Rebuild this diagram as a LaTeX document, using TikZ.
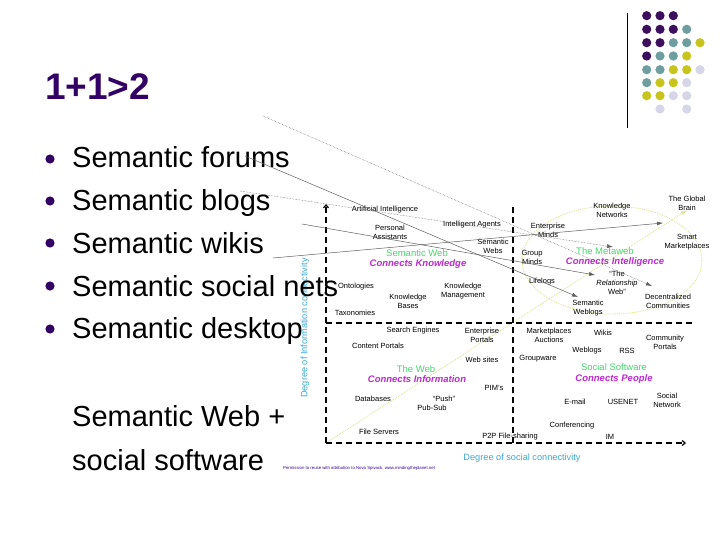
\documentclass[tikz,border=0pt]{standalone}
\usepackage{fontspec}
\setmainfont{Liberation Sans}
\usetikzlibrary{arrows.meta}
\definecolor{slidepurple}{RGB}{51,0,102}
\definecolor{dotpurple}{RGB}{60,16,92}
\definecolor{dotteal}{RGB}{110,158,160}
\definecolor{dotyellow}{RGB}{200,196,30}
\definecolor{dotlilac}{RGB}{214,214,232}
\definecolor{zonegreen}{RGB}{70,215,110}
\definecolor{tagmagenta}{RGB}{190,40,210}
\definecolor{axisblue}{RGB}{60,170,210}
\definecolor{guideyellow}{RGB}{222,228,150}
\definecolor{notepurple}{RGB}{51,0,153}

\begin{document}
\begin{tikzpicture}[x=1pt,y=-1pt,
  bullet/.style={anchor=base west,inner sep=0pt,font=\fontsize{29}{32}\selectfont},
  lbl/.style={align=center,inner sep=0pt,font=\fontsize{7.5}{9}\selectfont},
  zone/.style={inner sep=0pt,font=\fontsize{9.5}{10}\selectfont,text=zonegreen},
  tagline/.style={inner sep=0pt,font=\fontsize{9.5}{10}\selectfont\bfseries\itshape,text=tagmagenta},
  axislbl/.style={inner sep=0pt,font=\fontsize{9.2}{10}\selectfont,text=axisblue},
  axis/.style={line width=1.2pt,dash pattern=on 6pt off 4pt,-{Straight Barb[length=3pt,width=5pt]}},
  quadline/.style={line width=1.2pt,dash pattern=on 6pt off 4pt},
  guide/.style={draw=guideyellow,densely dotted,line width=0.9pt},
  pointer/.style={color=gray!75!black,line width=0.5pt,-{Latex[length=6pt,width=4pt]}}]
  \useasboundingbox[fill=white] (0,0) rectangle (720,540);

  % colour dots, top right
  \draw[line width=0.9pt] (627,13) -- (627,128);
  \foreach \x/\y/\c in {646.7/15.7/dotpurple,660/15.7/dotpurple,673.3/15.7/dotpurple,
      646.7/29.3/dotpurple,660/29.3/dotpurple,673.3/29.3/dotpurple,686.7/29.3/dotteal,
      646.7/42.7/dotpurple,660/42.7/dotpurple,673.3/42.7/dotteal,686.7/42.7/dotteal,700/42.7/dotyellow,
      646.7/56/dotpurple,660/56/dotteal,673.3/56/dotteal,686.7/56/dotyellow,
      646.7/69.7/dotteal,660/69.7/dotteal,673.3/69.7/dotyellow,686.7/69.7/dotyellow,700/69.7/dotlilac,
      646.7/82.7/dotteal,660/82.7/dotyellow,673.3/82.7/dotyellow,686.7/82.7/dotlilac,
      646.7/95.7/dotyellow,660/95.7/dotyellow,673.3/95.7/dotlilac,686.7/95.7/dotlilac,
      660/109/dotlilac,686.7/109/dotlilac}
    \fill[\c] (\x,\y) circle (4.6pt);

  % title and bullets
  \node[anchor=base west,inner sep=0pt,font=\fontsize{37}{40}\selectfont\bfseries,text=slidepurple] (title) at (45,100) {1+1>2};
  \foreach \y in {159,201,243,286,329}
    \fill[slidepurple] (50,\y) circle (4.6pt);

  % chart: faint guides
  \draw[guide] (612,260) ellipse [x radius=90pt, y radius=54pt];
  \coordinate (origin) at (326,443);
  \coordinate (diagtip) at (687,210);
  \draw[guide,-{Latex[length=6pt,width=4pt]}] (origin) -- (diagtip);

  % chart: axes and quadrants
  \coordinate (ytip) at (326,204);
  \coordinate (xtip) at (686,443);
  \coordinate (midleft) at (326,323);
  \coordinate (midright) at (692,323);
  \coordinate (midtop) at (513,207);
  \coordinate (midbottom) at (513,443);
  \draw[axis] (origin) -- (ytip);
  \draw[axis] (origin) -- (xtip);
  \draw[quadline] (midleft) -- (midright);
  \draw[quadline] (midtop) -- (midbottom);
  \node[axislbl,rotate=90] (ylbl) at (305,328) {Degree of Information connectivity};
  \node[axislbl] (xlbl) at (522,458) {Degree of social connectivity};
  \node[anchor=west,inner sep=0pt,font=\fontsize{4.3}{5}\selectfont,text=notepurple] (note) at (283,468)
    {Permission to reuse with attribution to Nova Spivack, www.mindingtheplanet.net};

  % semantic web quadrant
  \node[lbl] (ai)     at (385,210) {Artificial Intelligence};
  \node[lbl] (pa)     at (390,232) {Personal\\Assistants};
  \node[lbl] (agents) at (472,225) {Intelligent Agents};
  \node[lbl] (swebs)  at (493,246) {Semantic\\Webs};
  \node[zone]    (swtitle) at (417,253) {Semantic Web};
  \node[tagline] (swsub)   at (418,264) {Connects Knowledge};
  \node[lbl] (onto)   at (356,287) {Ontologies};
  \node[lbl] (kb)     at (408,301) {Knowledge\\Bases};
  \node[lbl] (km)     at (463,291) {Knowledge\\Management};
  \node[lbl] (taxo)   at (355,313) {Taxonomies};

  % metaweb quadrant
  \node[lbl] (entminds)   at (548,230) {Enterprise\\Minds};
  \node[lbl] (groupminds) at (532,257) {Group\\Minds};
  \node[lbl] (lifelogs)   at (542,282) {Lifelogs};
  \node[lbl] (knet)       at (612,210) {Knowledge\\Networks};
  \node[lbl] (brain)      at (687,203) {The Global\\Brain};
  \node[lbl] (smart)      at (687,242) {Smart\\Marketplaces};
  \node[zone]    (mwtitle) at (605,251) {The Metaweb};
  \node[tagline] (mwsub)   at (615,262) {Connects Intelligence};
  \node[lbl] (relweb)     at (617,283) {“The\\\textit{Relationship}\\Web”};
  \node[lbl] (sweblogs)   at (588,308) {Semantic\\Weblogs};
  \node[lbl] (decomm)     at (668,301) {Decentralized\\Communities};

  % web quadrant
  \node[lbl] (search)     at (413,331) {Search Engines};
  \node[lbl] (entportals) at (482,335) {Enterprise\\Portals};
  \node[lbl] (content)    at (378,346) {Content Portals};
  \node[lbl] (websites)   at (482,360) {Web sites};
  \node[zone]    (webtitle) at (416,369) {The Web};
  \node[tagline] (websub)   at (417,379) {Connects Information};
  \node[lbl] (pims)       at (494,388) {PIM's};
  \node[lbl] (dbs)        at (373,399) {Databases};
  \node[lbl] (push)       at (444,399) {“Push”};
  \node[lbl] (pubsub)     at (432,408) {Pub-Sub};
  \node[lbl] (files)      at (379,432) {File Servers};
  \node[lbl] (p2p)        at (510,437) {P2P File-sharing};

  % social software quadrant
  \node[lbl] (market)      at (549,335) {Marketplaces\\Auctions};
  \node[lbl] (wikis)       at (603,333) {Wikis};
  \node[lbl] (commportals) at (665,342) {Community\\Portals};
  \node[lbl] (weblogs)     at (587,351) {Weblogs};
  \node[lbl] (rss)         at (627,351) {RSS};
  \node[lbl] (groupware)   at (538,359) {Groupware};
  \node[zone]    (sstitle) at (614,367) {Social Software};
  \node[tagline] (sssub)   at (614,379) {Connects People};
  \node[lbl] (email)       at (575,402) {E-mail};
  \node[lbl] (usenet)      at (623,402) {USENET};
  \node[lbl] (socnet)      at (667,400) {Social\\Network};
  \node[lbl] (conf)        at (572,426) {Conferencing};
  \node[lbl] (im)          at (610,437) {IM};

  % bullet texts over the chart
  \node[bullet] (forums)  at (72,168) {Semantic forums};
  \node[bullet] (blogs)   at (72,211) {Semantic blogs};
  \node[bullet] (wikitxt) at (72,253) {Semantic wikis};
  \node[bullet] (nets)    at (72,296) {Semantic social nets};
  \node[bullet] (desktop) at (72,338) {Semantic desktop};
  \node[bullet] (swplus)  at (72,426) {Semantic Web +};
  \node[bullet] (socsw)   at (72,470) {social software};

  % pointers into the chart
  \coordinate (src1) at (263,116); \coordinate (dst1) at (652,286);
  \coordinate (src2) at (245,156); \coordinate (dst2) at (578,297);
  \coordinate (src3) at (240,191); \coordinate (dst3) at (613,247);
  \coordinate (src4) at (302,224); \coordinate (dst4) at (595,275);
  \coordinate (src5) at (273,258); \coordinate (dst5) at (663,223);
  \draw[pointer,densely dotted] (src1) -- (dst1);
  \draw[pointer] (src2) -- (dst2);
  \draw[pointer,densely dotted] (src3) -- (dst3);
  \draw[pointer] (src4) -- (dst4);
  \draw[pointer] (src5) -- (dst5);
\end{tikzpicture}
\end{document}
